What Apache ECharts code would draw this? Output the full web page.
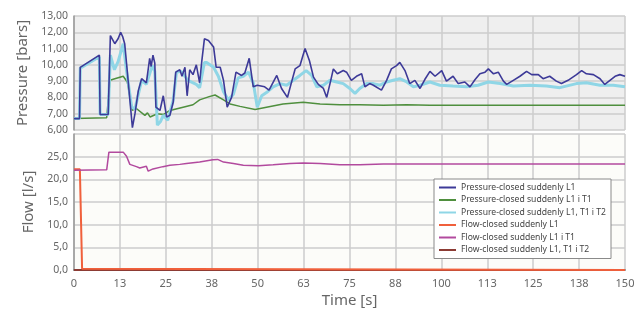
<!DOCTYPE html>
<html>
<head>
<meta charset="utf-8">
<script src="https://cdn.jsdelivr.net/npm/echarts@6/dist/echarts.min.js"></script>
<style>
  html, body { margin: 0; padding: 0; background: #fff; }
  #chart { width: 643px; height: 309px; }
</style>
</head>
<body>
<div id="chart"></div>
<script>
// time [s], value pairs
const timeTicks = [0, 12.5, 25, 37.5, 50, 62.5, 75, 87.5, 100, 112.5, 125, 137.5, 150]

const pressureL1 = [[0,6.7],[1.5,6.7],[1.7,9.85],[6.9,10.6],[7.1,6.95],[9.3,6.95],[9.9,11.8],[11.1,11.3],[12.0,11.6],[12.7,12.0],[13.3,11.7],[13.8,11.3],[14.4,9.85],[15.9,6.15],[16.6,7.0],[17.5,8.4],[18.4,9.15],[19.7,8.9],[20.6,10.4],[21.0,9.9],[21.5,10.6],[22.0,10.1],[22.3,7.4],[23.4,7.2],[24.3,8.1],[25.2,6.8],[26.1,6.9],[27.0,7.7],[27.7,9.55],[28.8,9.7],[29.4,9.3],[30.2,9.85],[30.8,8.1],[31.5,9.7],[32.4,9.4],[33.3,10.0],[34.2,8.9],[34.8,10.25],[35.5,11.6],[36.6,11.5],[38.0,11.1],[38.7,9.85],[39.8,9.85],[40.7,9.05],[41.7,7.4],[42.9,8.0],[44.1,9.55],[45.6,9.35],[46.5,9.5],[47.7,10.4],[48.8,8.65],[49.9,8.75],[51.9,8.65],[53.1,8.45],[55.2,9.35],[56.5,8.55],[58.1,8.0],[59.3,9.0],[60.2,9.75],[61.5,9.95],[62.9,11.0],[64.1,10.25],[65.2,9.25],[66.5,8.8],[67.9,8.55],[68.8,8.0],[69.9,9.05],[70.6,9.75],[71.7,9.45],[73.3,9.65],[74.2,9.55],[75.5,9.05],[76.9,9.3],[78.3,9.45],[79.2,8.65],[80.5,8.85],[81.5,8.75],[83.7,8.45],[85.1,9.05],[86.4,9.75],[87.8,9.95],[88.7,10.15],[90.1,9.65],[91.4,8.85],[92.8,9.05],[94.2,8.55],[95.5,9.1],[96.9,9.6],[98.3,9.3],[100.1,9.65],[101.4,9.0],[103.2,9.3],[104.6,8.85],[106.4,8.95],[107.8,8.65],[109.2,9.1],[110.5,9.45],[111.9,9.55],[112.8,9.75],[114.2,9.45],[115.5,9.55],[116.9,9.0],[117.8,8.8],[119.6,9.05],[121.4,9.3],[123.2,9.6],[124.6,9.4],[126.4,9.4],[127.7,9.15],[129.5,9.3],[131.3,9.0],[132.7,8.85],[134.5,9.05],[136.8,9.4],[138.2,9.65],[139.5,9.45],[141.4,9.4],[143.2,9.15],[144.5,8.8],[145.9,9.05],[147.3,9.3],[148.6,9.4],[150,9.3]]

const pressureL1T1 = [[0,6.7],[8.9,6.75],[9.2,6.75],[9.8,9.05],[11.1,9.15],[13.4,9.3],[14.5,8.95],[15.9,7.2],[16.8,7.35],[19.3,6.9],[20.0,7.05],[20.7,6.8],[22.7,7.0],[24.3,6.95],[26.1,7.2],[29.7,7.4],[32.4,7.55],[34.2,7.85],[36.8,8.05],[38.4,8.15],[40.7,7.85],[42.5,7.6],[45.2,7.45],[49.3,7.26],[52.4,7.4],[56.9,7.6],[62.4,7.7],[67,7.6],[72.4,7.55],[77.8,7.55],[84.2,7.52],[90.6,7.55],[96.9,7.52],[110,7.52],[130,7.52],[150,7.52]]

const pressureL1T1T2 = [[0,6.7],[1.5,6.7],[1.7,9.8],[6.9,10.5],[7.1,6.95],[9.3,6.95],[9.9,10.6],[11.0,9.7],[12.0,10.2],[13.4,11.3],[14.2,9.8],[15.7,7.4],[16.6,7.3],[18.4,9.05],[19.7,8.8],[21.3,9.95],[22.0,9.6],[22.7,6.3],[23.5,6.5],[24.3,6.9],[25.5,6.6],[27.0,7.8],[27.9,9.55],[29.2,9.6],[31.0,9.05],[33.3,8.8],[34.2,8.6],[35.5,10.15],[36.1,10.15],[38,9.85],[39.3,9.3],[40.7,8.35],[42,7.85],[43.4,8.2],[44.7,9.2],[46.1,9.3],[47.5,9.55],[48.8,8.9],[49.9,7.4],[51.1,8.1],[52.4,8.3],[54.2,8.65],[56.1,8.85],[57.9,8.75],[59.7,9.05],[61.5,9.35],[63.2,9.65],[64.7,9.35],[66.1,8.65],[67.9,8.75],[69.7,9.05],[71.5,8.95],[73.3,8.85],[75.1,8.55],[76.5,8.25],[77.8,8.55],[79.7,8.85],[81.5,8.85],[83.3,8.75],[85.1,8.95],[86.9,9.05],[88.7,9.15],[90.6,8.95],[92.4,8.65],[94.2,8.75],[96.9,8.95],[99.6,8.75],[103.2,8.7],[106.9,8.65],[110,8.75],[112.8,8.95],[116,8.85],[119.6,8.7],[124.1,8.75],[128.6,8.7],[132.3,8.6],[136.8,8.85],[139.5,8.9],[143.2,8.75],[146.8,8.75],[150,8.65]]

const flowL1 = [[0,22.2],[1.6,22.2],[2.2,0.3],[2.5,0],[150,0]]

const flowL1T1 = [[0,22.0],[8.9,22.1],[9.5,26.0],[13.4,26.0],[14.3,25.1],[15.2,23.3],[17.0,22.8],[17.9,22.5],[19.7,22.9],[20.2,21.8],[21.5,22.3],[24.2,22.8],[26.1,23.1],[28.8,23.3],[30.6,23.5],[34.2,23.8],[37.8,24.3],[39.1,24.4],[40.7,23.8],[43.4,23.5],[46.1,23.1],[50.2,23.0],[54.2,23.2],[58.8,23.5],[62.4,23.6],[67,23.5],[72.4,23.2],[77.8,23.2],[84.2,23.4],[96.9,23.4],[150,23.4]]

const flowL1T1T2 = [[0,0],[150,0]]

const seriesNames = [
    'Pressure-closed suddenly L1',
    'Pressure-closed suddenly L1 i T1',
    'Pressure-closed suddenly L1, T1 i T2',
    'Flow-closed suddenly L1',
    'Flow-closed suddenly L1 i T1',
    'Flow-closed suddenly L1, T1 i T2'
]
const lineColors = ['#3d3a98', '#4f8f3e', '#8fd6e6', '#f0603c', '#b24a9e', '#8c3b34']

const gridColor = '#cdcdcd'
const labelColor = '#666'
const fontFamily = '"Noto Sans", sans-serif'

function commaFixed (v, d) {
    return v.toFixed(d).replace('.', ',')
}

function makeLine (name, color, width, xi, yi, data, z) {
    return {
        name: name,
        type: 'line',
        xAxisIndex: xi,
        yAxisIndex: yi,
        data: data,
        symbol: 'none',
        showSymbol: false,
        animation: false,
        z: z,
        lineStyle: { color: color, width: width },
        itemStyle: { color: color }
    }
}

const xAxisBase = {
    type: 'value',
    min: 0,
    max: 150,
    interval: 12.5,
    axisTick: { show: false },
    splitLine: { show: true, lineStyle: { color: gridColor, width: 1.5 } }
}

const chart = echarts.init(document.getElementById('chart'))
chart.setOption({
    backgroundColor: '#fff',
    textStyle: { fontFamily: fontFamily },
    grid: [
        { left: 74, right: 18, top: 16, height: 114, show: true, backgroundColor: '#efefef', borderWidth: 0 },
        { left: 74, right: 18, top: 134, height: 138, show: true, backgroundColor: '#fcfcf9', borderWidth: 0 }
    ],
    legend: {
        orient: 'vertical',
        left: 434,
        top: 179,
        data: seriesNames,
        itemWidth: 17,
        itemHeight: 10,
        itemGap: 3.5,
        padding: [4, 5, 4, 4],
        backgroundColor: '#fff',
        borderColor: '#8a8a8a',
        borderWidth: 1,
        itemStyle: { opacity: 0 },
        lineStyle: { width: 2 },
        textStyle: { fontSize: 8.6, color: '#444', fontFamily: fontFamily }
    },
    xAxis: [
        Object.assign({}, xAxisBase, {
            gridIndex: 0,
            axisLabel: { show: false },
            axisLine: { show: false }
        }),
        Object.assign({}, xAxisBase, {
            gridIndex: 1,
            name: 'Time [s]',
            nameLocation: 'middle',
            nameGap: 23,
            nameTextStyle: { fontSize: 15, color: labelColor },
            axisLine: { show: true, lineStyle: { color: '#8a8a8a', width: 2 } },
            axisLabel: {
                fontSize: 11,
                color: labelColor,
                margin: 8,
                formatter: function (v) { return String(Math.round(v)) }
            }
        })
    ],
    yAxis: [
        {
            type: 'value',
            gridIndex: 0,
            min: 6,
            max: 13,
            interval: 1,
            name: 'Pressure [bars]',
            nameLocation: 'middle',
            nameGap: 37,
            nameTextStyle: { fontSize: 15, color: labelColor },
            axisTick: { show: false },
            axisLine: { show: true, lineStyle: { color: '#999', width: 1.5 } },
            axisLabel: { fontSize: 10.5, color: labelColor, margin: 6, formatter: function (v) { return commaFixed(v, 2) } },
            splitLine: { show: true, lineStyle: { color: gridColor, width: 1.5 } }
        },
        {
            type: 'value',
            gridIndex: 1,
            min: 0,
            max: 30,
            interval: 5,
            name: 'Flow [l/s]',
            nameLocation: 'middle',
            nameGap: 37,
            nameTextStyle: { fontSize: 15, color: labelColor },
            axisTick: { show: false },
            axisLine: { show: true, lineStyle: { color: '#999', width: 1.5 } },
            axisLabel: {
                fontSize: 10.5,
                color: labelColor,
                margin: 6,
                formatter: function (v) { return v > 25 ? '' : commaFixed(v, 1) }
            },
            splitLine: { show: true, lineStyle: { color: gridColor, width: 1.5 } }
        }
    ],
    series: [
        makeLine(seriesNames[1], lineColors[1], 1.5, 0, 0, pressureL1T1, 2),
        makeLine(seriesNames[2], lineColors[2], 3, 0, 0, pressureL1T1T2, 3),
        makeLine(seriesNames[0], lineColors[0], 1.6, 0, 0, pressureL1, 4),
        makeLine(seriesNames[5], lineColors[5], 2, 1, 1, flowL1T1T2, 2),
        makeLine(seriesNames[3], lineColors[3], 2, 1, 1, flowL1, 3),
        makeLine(seriesNames[4], lineColors[4], 1.5, 1, 1, flowL1T1, 4)
    ]
})
</script>
</body>
</html>
